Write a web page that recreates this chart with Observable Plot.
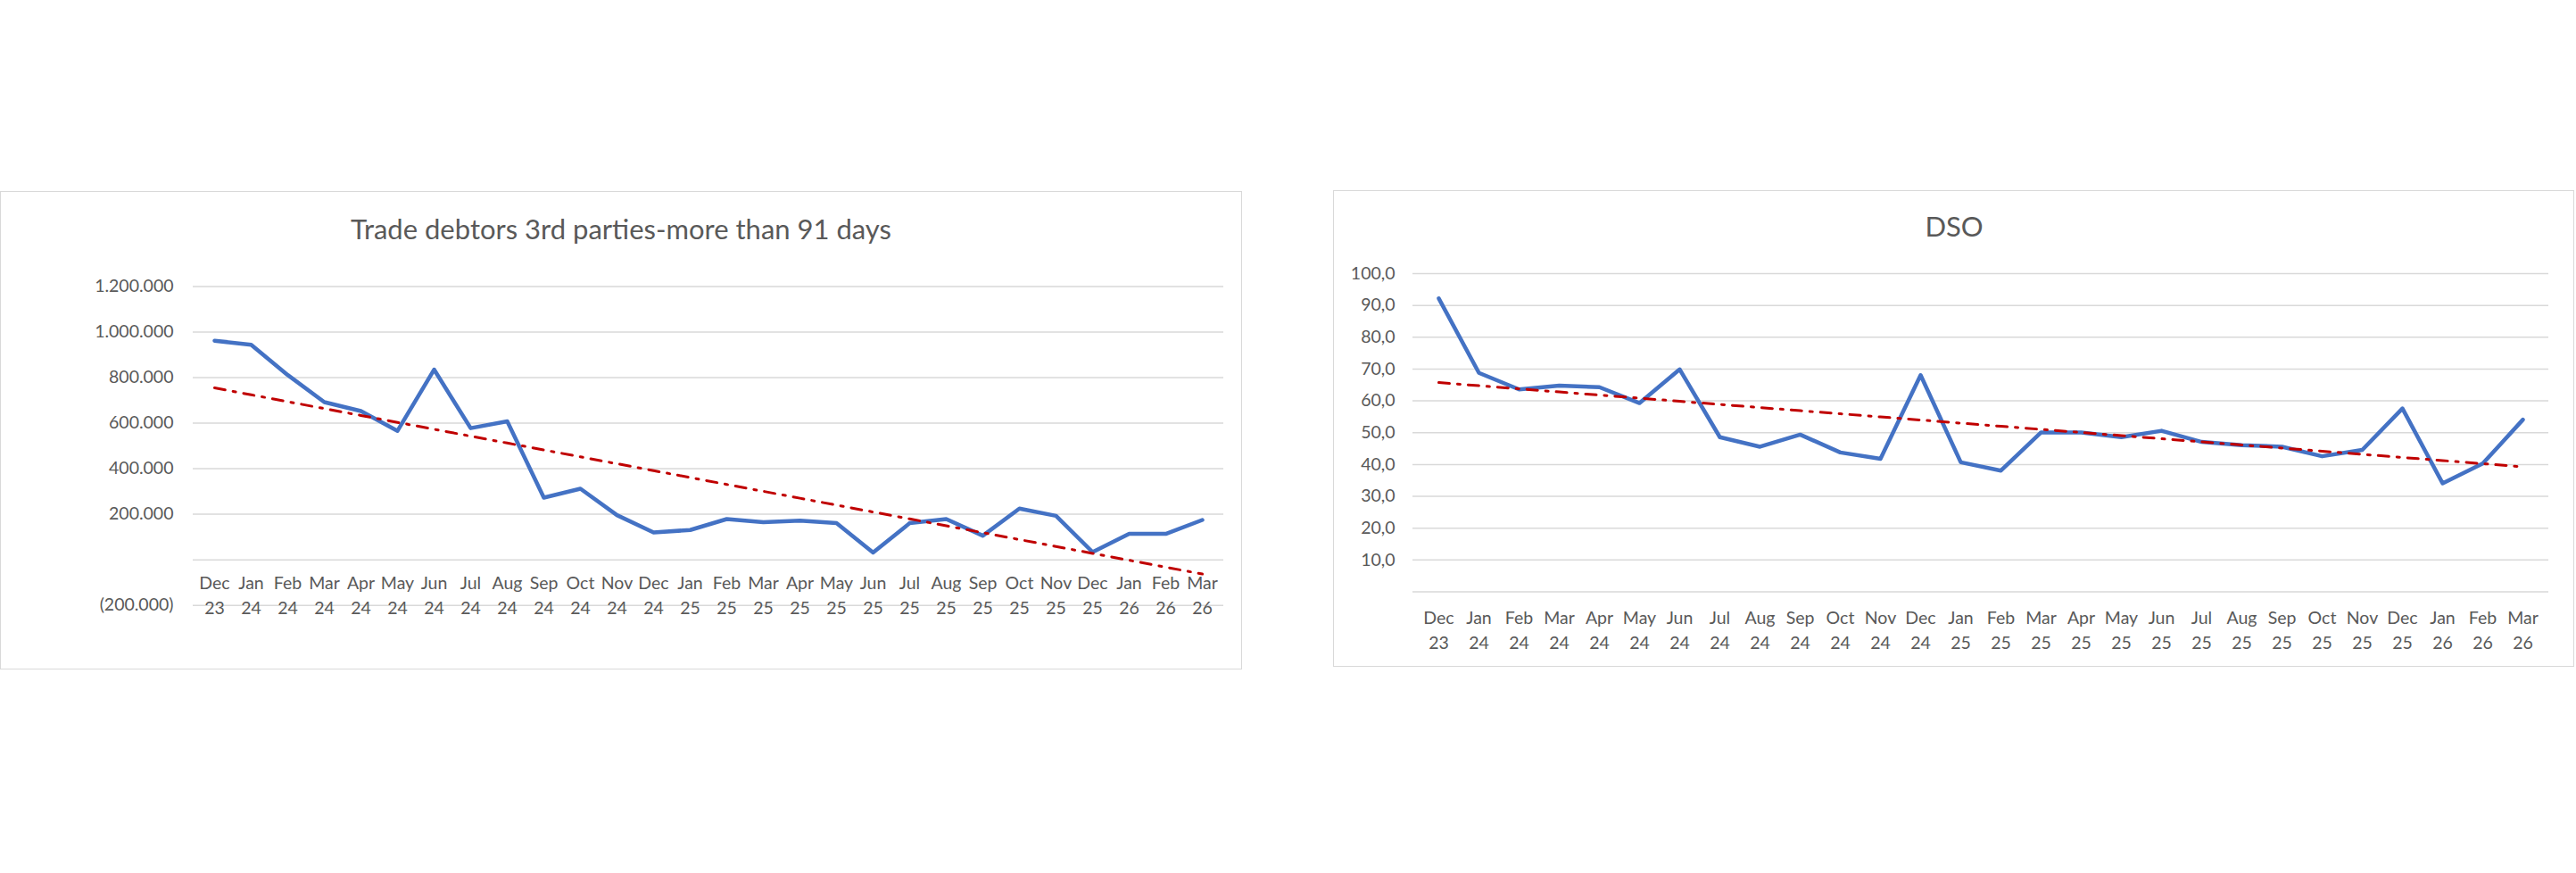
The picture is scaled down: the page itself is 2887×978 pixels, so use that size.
<!DOCTYPE html>
<html>
<head>
<meta charset="utf-8">
<script src="https://cdn.jsdelivr.net/npm/d3@7"></script>
<script src="https://cdn.jsdelivr.net/npm/@observablehq/plot@0.6"></script>
<style>
  html, body { margin: 0; padding: 0; background: #fff; }
  #page { position: relative; width: 2887px; height: 978px; background: #fff; overflow: hidden; }
  .frame { position: absolute; border: 1.5px solid #d9d9d9; box-sizing: border-box; }
  .title { position: absolute; text-align: center; font-family: Lato, "Open Sans", sans-serif; color: #595959; line-height: 1; white-space: nowrap; }
</style>
</head>
<body>
<div id="page"></div>
<script>
// ---- data ----
const months = ["Dec","Jan","Feb","Mar","Apr","May","Jun","Jul","Aug","Sep","Oct","Nov",
                "Dec","Jan","Feb","Mar","Apr","May","Jun","Jul","Aug","Sep","Oct","Nov",
                "Dec","Jan","Feb","Mar"];
const years  = ["23","24","24","24","24","24","24","24","24","24","24","24",
                "24","25","25","25","25","25","25","25","25","25","25","25",
                "25","26","26","26"];
const debtors = [962000, 944000, 811000, 692000, 653000, 566000, 835000, 578000, 608000, 273000, 312000, 196000,
                 120000, 131000, 179000, 165000, 172000, 161000, 32000, 161000, 179000, 106000, 225000, 193000,
                 34000, 114000, 114000, 175000];
const dso = [92.2, 68.8, 63.6, 64.8, 64.3, 59.3, 69.9, 48.6, 45.6, 49.4, 43.8, 41.8,
             68.1, 40.7, 38.1, 50.1, 50.1, 48.6, 50.6, 47.1, 46.1, 45.6, 42.6, 44.6,
             57.6, 34.1, 40.3, 54.1];
const debtorTicks = [-200000, 0, 200000, 400000, 600000, 800000, 1000000, 1200000];
const dsoTicks = [0, 10, 20, 30, 40, 50, 60, 70, 80, 90, 100];
const titles = ["Trade debtors 3rd parties-more than 91 days", "DSO"];
const axisCrossing = 0;

// ---- helpers ----
const categories = months.map((m, i) => m + " " + years[i]);
const locale = d3.formatLocale({decimal: ",", thousands: ".", grouping: [3], currency: ["", ""]});
const fInt = locale.format(",.0f");
const fDec = locale.format(",.1f");
const fmtDebtors = v => v === 0 ? "" : v < 0 ? "(" + fInt(-v) + ")" : fInt(v);
const fmtDso = v => v === 0 ? "" : fDec(v);

function trendline(values) {
  const n = values.length;
  const xs = d3.range(n);
  const mx = d3.mean(xs), my = d3.mean(values);
  const sxy = d3.sum(xs, (x, i) => (x - mx) * (values[i] - my));
  const sxx = d3.sum(xs, x => (x - mx) ** 2);
  const b = sxy / sxx, a = my - b * mx;
  return xs.map(x => a + b * x);
}

const FONT = "Lato, 'Open Sans', sans-serif";
const GREY = "#595959";
const TICK_FS = 19.5;

function makeChart(cfg) {
  const tr = trendline(cfg.values);
  const data = categories.map((c, i) => ({cat: c, month: months[i], year: years[i], value: cfg.values[i], trend: tr[i]}));
  const svg = Plot.plot({
    width: cfg.width, height: cfg.height,
    marginLeft: cfg.ml, marginRight: cfg.mr, marginTop: cfg.mt, marginBottom: cfg.mb,
    x: {type: "point", domain: categories, padding: 0.5, axis: null},
    y: {domain: cfg.domain, axis: null, label: null},
    style: {fontFamily: FONT, background: "transparent", overflow: "visible", color: GREY},
    marks: [
      Plot.gridY(cfg.ticks, {stroke: "#d9d9d9", strokeOpacity: 1, strokeWidth: 1.5}),
      Plot.axisY(cfg.ticks, {tickSize: 0, tickPadding: cfg.tickPad, tickFormat: cfg.fmt, fontSize: TICK_FS, fill: GREY, label: null}),
      Plot.text(data, {x: "cat", y: () => axisCrossing, dy: cfg.dy1, text: "month", fontSize: TICK_FS, fill: GREY}),
      Plot.text(data, {x: "cat", y: () => axisCrossing, dy: cfg.dy2, text: "year", fontSize: TICK_FS, fill: GREY}),
      Plot.line(data, {x: "cat", y: "value", stroke: "#4472C4", strokeWidth: 4.5, strokeLinejoin: "round", strokeLinecap: "round"}),
      Plot.line(data, {x: "cat", y: "trend", stroke: "#C00000", strokeWidth: 3, strokeDasharray: "12,9,3,9"})
    ]
  });
  svg.style.position = "absolute";
  svg.style.left = cfg.left + "px";
  svg.style.top = cfg.top + "px";
  return svg;
}

const page = document.getElementById("page");

function addFrame(l, t, w, h) {
  const d = document.createElement("div");
  d.className = "frame";
  Object.assign(d.style, {left: l + "px", top: t + "px", width: w + "px", height: h + "px"});
  page.appendChild(d);
}
function addTitle(text, l, w, top, fs) {
  const d = document.createElement("div");
  d.className = "title";
  d.textContent = text;
  Object.assign(d.style, {left: l + "px", width: w + "px", top: top + "px", fontSize: fs + "px"});
  page.appendChild(d);
}

// left chart
addFrame(0, 214, 1392, 536);
addTitle(titles[0], 0, 1392, 241, 31);
page.appendChild(makeChart({
  values: debtors, ticks: debtorTicks, fmt: fmtDebtors, domain: [-200000, 1200000],
  width: 1392, height: 536, left: 0, top: 214,
  ml: 216, mr: 21, mt: 106.4, mb: 536 - 463.7, tickPad: 22, dy1: 27, dy2: 55
}));

// right chart
addFrame(1494, 213, 1391, 534);
addTitle(titles[1], 1494, 1392, 238, 31);
page.appendChild(makeChart({
  values: dso, ticks: dsoTicks, fmt: fmtDso, domain: [0, 100],
  width: 1392, height: 534, left: 1494, top: 214,
  ml: 89, mr: 30, mt: 92, mb: 534 - 448.5, tickPad: 20, dy1: 29.5, dy2: 57.5
}));
</script>
</body>
</html>
